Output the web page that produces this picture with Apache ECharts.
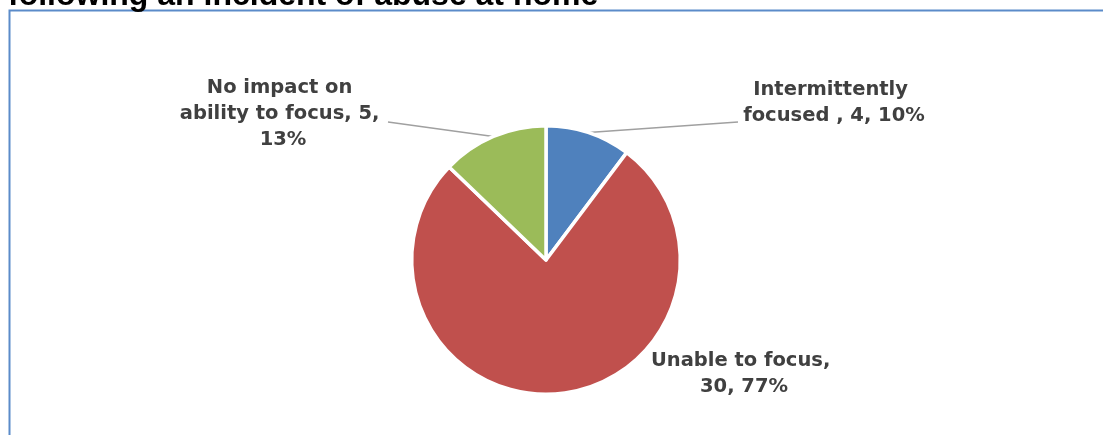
<!DOCTYPE html>
<html>
<head>
<meta charset="utf-8">
<title>Ability to focus following an incident of abuse at home</title>
<script src="https://cdn.jsdelivr.net/npm/echarts@6/dist/echarts.min.js"></script>
<style>
  html, body { margin: 0; padding: 0; background: #ffffff; }
  #chart { width: 1103px; height: 435px; }
</style>
</head>
<body>
<div id="chart"></div>
<script>
// Responses: how well the child could focus after an incident of abuse at home
const categories = ['Intermittently focused ', 'Unable to focus', 'No impact on ability to focus'];
const counts = [4, 30, 5];
const sliceColors = ['#4f81bd', '#c0504d', '#9bbb59'];

// Where each slice's label block sits, and where its leader line ends
const labelSpots = [
  { x: 834, y: 103, lineEnd: [738, 122] },
  { x: 744, y: 374, lineEnd: null },
  { x: 283, y: 114, lineEnd: [388, 122] }
];

const TITLE_FONT = '"Liberation Sans", Arial, sans-serif';
const LABEL_FONT = '"DejaVu Sans", "Liberation Sans", sans-serif';

const chart = echarts.init(document.getElementById('chart'), null, { renderer: 'canvas' });

const pieData = categories.map((name, i) => ({
  name: name,
  value: counts[i],
  itemStyle: { color: sliceColors[i] },
  labelLine: { show: labelSpots[i].lineEnd !== null }
}));

chart.setOption({
  backgroundColor: '#ffffff',
  animation: false,
  title: {
    text: 'following an incident of abuse at home',
    left: 8,
    top: -20,
    padding: 0,
    textStyle: { fontFamily: TITLE_FONT, fontSize: 32, fontWeight: 'bold', color: '#000000' }
  },
  graphic: [{
    type: 'rect',
    z: -1,
    shape: { x: 9.5, y: 10.5, width: 1200, height: 600 },
    style: { fill: 'none', stroke: '#5b8bc9', lineWidth: 2 }
  }],
  series: [{
    type: 'pie',
    center: [546, 260],
    radius: 134.3,
    startAngle: 90,
    clockwise: true,
    avoidLabelOverlap: false,
    emphasis: { disabled: true },
    itemStyle: { borderColor: '#ffffff', borderWidth: 3.5 },
    label: {
      show: true,
      position: 'outside',
      fontFamily: LABEL_FONT,
      fontSize: 19.5,
      fontWeight: 'bold',
      color: '#404040',
      lineHeight: 26,
      width: 212,
      overflow: 'break',
      align: 'center',
      formatter: function (p) {
        return p.name + ', ' + p.value + ', ' + Math.round(p.percent) + '%';
      }
    },
    labelLine: {
      show: true,
      length: 5,
      length2: 10,
      lineStyle: { color: '#a0a0a0', width: 1.5 }
    },
    labelLayout: function (params) {
      const spot = labelSpots[params.dataIndex];
      const out = { x: spot.x, y: spot.y, align: 'center', verticalAlign: 'middle' };
      if (spot.lineEnd && params.labelLinePoints) {
        const s = params.labelLinePoints[0];
        const e = spot.lineEnd;
        out.labelLinePoints = [s, [(s[0] + e[0]) / 2, (s[1] + e[1]) / 2], e];
      }
      return out;
    },
    data: pieData
  }]
});
</script>
</body>
</html>
